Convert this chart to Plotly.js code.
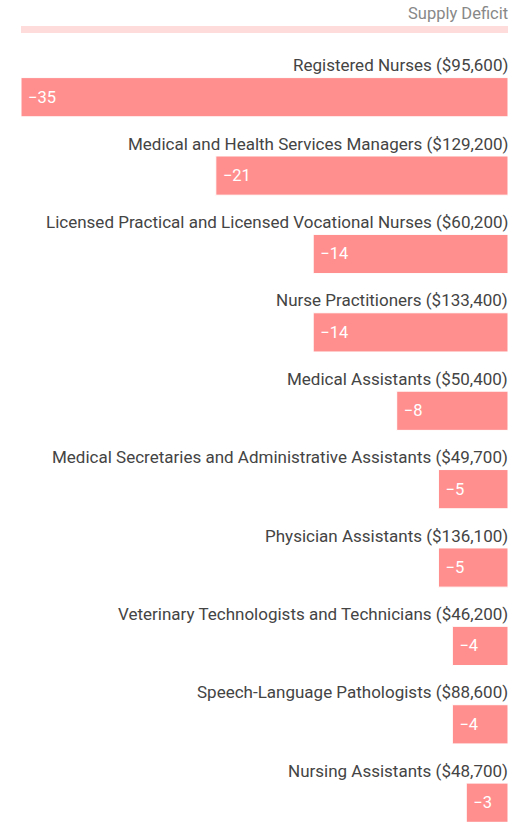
<!DOCTYPE html>
<html>
<head>
<meta charset="utf-8">
<script src="https://cdn.plot.ly/plotly-3.0.1.min.js"></script>
<style>html,body{margin:0;padding:0;background:#fff;}#chart{width:526px;height:822px;}</style>
</head>
<body>
<div id="chart"></div>
<script>
const occupations = [
  "Registered Nurses ($95,600)",
  "Medical and Health Services Managers ($129,200)",
  "Licensed Practical and Licensed Vocational Nurses ($60,200)",
  "Nurse Practitioners ($133,400)",
  "Medical Assistants ($50,400)",
  "Medical Secretaries and Administrative Assistants ($49,700)",
  "Physician Assistants ($136,100)",
  "Veterinary Technologists and Technicians ($46,200)",
  "Speech-Language Pathologists ($88,600)",
  "Nursing Assistants ($48,700)"
];
const deficit = [-35, -21, -14, -14, -8, -5, -5, -4, -4, -3];
const seriesName = "Supply Deficit";

const positions = occupations.map((_, i) => i);
const labels = deficit.map(v => "\u00a0" + (v < 0 ? "\u2212" + Math.abs(v) : String(v)));

const trace = {
  type: "bar",
  orientation: "h",
  x: deficit,
  y: positions,
  width: 0.5,
  text: labels,
  textposition: "inside",
  insidetextanchor: "end",
  textfont: {family: "Roboto", size: 16.5, color: "#ffffff"},
  marker: {color: "#ff8f8f", line: {color: "#ffffff", width: 1}},
  hoverinfo: "none",
  showlegend: false,
  cliponaxis: false
};

const annotations = occupations.map((name, i) => ({
  xref: "x", yref: "y", x: 0, y: i,
  xanchor: "right", yanchor: "middle", yshift: 32, xshift: 2,
  text: name, showarrow: false,
  font: {family: "Roboto", size: 17, color: "#444444"}
}));
annotations.push({
  xref: "paper", yref: "paper", x: 1, y: 1.0589, xshift: 2,
  xanchor: "right", yanchor: "middle",
  text: seriesName, showarrow: false,
  font: {family: "Roboto", size: 16.5, color: "#888888"}
});

const layout = {
  width: 526, height: 822,
  margin: {l: 21, r: 18, t: 58, b: 0, pad: 0},
  paper_bgcolor: "#ffffff", plot_bgcolor: "#ffffff",
  xaxis: {range: [-35, 0], showgrid: false, zeroline: false, showticklabels: false, showline: false, fixedrange: true},
  yaxis: {range: [9.246, -0.5], showgrid: false, zeroline: false, showticklabels: false, showline: false, fixedrange: true},
  annotations: annotations,
  shapes: [{
    type: "rect", xref: "paper", yref: "paper",
    x0: 0, x1: 1, y0: 1.0327, y1: 1.0419,
    fillcolor: "#ffdcdc", line: {width: 0}
  }],
  font: {family: "Roboto"}
};

Plotly.newPlot("chart", [trace], layout, {displayModeBar: false, staticPlot: true});
</script>
</body>
</html>
